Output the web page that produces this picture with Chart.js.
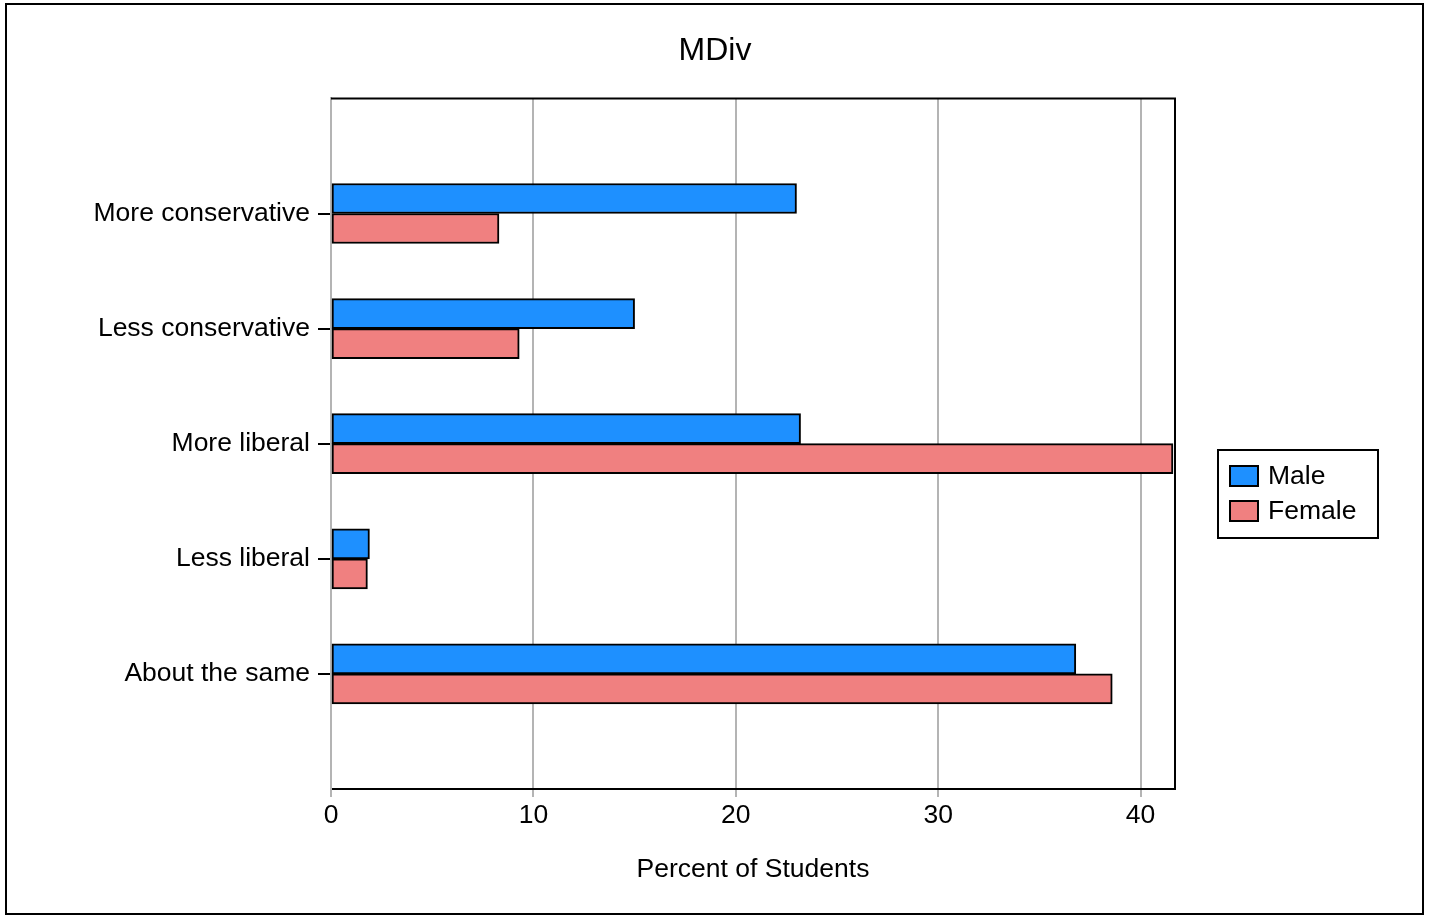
<!DOCTYPE html>
<html>
<head>
<meta charset="utf-8">
<script src="https://cdn.jsdelivr.net/npm/chart.js@4/dist/chart.umd.min.js"></script>
<style>
  html, body { margin: 0; padding: 0; background: #fff; }
  canvas { display: block; }
</style>
</head>
<body>
<canvas id="mdivChart" width="1430" height="916"></canvas>
<script>
// values
var categories = ['More conservative', 'Less conservative', 'More liberal', 'Less liberal', 'About the same'];
var maleValues = [23.0, 15.0, 23.2, 1.9, 36.8];
var femaleValues = [8.3, 9.3, 41.6, 1.8, 38.6];
var seriesNames = ['Male', 'Female'];
var xTicks = [0, 10, 20, 30, 40];

var FONT = "'Liberation Sans', Arial, sans-serif";
var LABEL_SIZE = 26.5;
var maleColor = '#1E90FF', femaleColor = '#F08080';

// pad the category axis with an empty slot on each end (the plot leaves a full band free)
var paddedLabels = [''].concat(categories, ['']);
function pad(arr) { return [null].concat(arr, [null]); }

var framePlugin = {
  id: 'frame',
  afterDraw: function(chart) {
    var ctx = chart.ctx, a = chart.chartArea;
    ctx.save();
    ctx.strokeStyle = '#000';
    ctx.lineWidth = 2;
    // top and right sides of the plot box
    ctx.beginPath();
    ctx.moveTo(a.left, a.top);
    ctx.lineTo(a.right, a.top);
    ctx.lineTo(a.right, a.bottom);
    ctx.stroke();
    // outer border of the picture
    ctx.strokeRect(6, 4, 1417, 910);

    // legend box
    var lx = a.right + 43, ly = 450;
    ctx.strokeRect(lx, ly, 160, 88);
    var ds = chart.data.datasets;
    ctx.font = LABEL_SIZE + 'px ' + FONT;
    ctx.textBaseline = 'middle';
    for (var i = 0; i < ds.length; i++) {
      var cy = ly + 26 + i * 35;
      ctx.fillStyle = ds[i].backgroundColor;
      ctx.fillRect(lx + 12, cy - 10, 28, 20);
      ctx.strokeRect(lx + 12, cy - 10, 28, 20);
      ctx.fillStyle = '#000';
      ctx.fillText(ds[i].label, lx + 50, cy + 1);
    }
    ctx.restore();
  }
};

new Chart(document.getElementById('mdivChart'), {
  type: 'bar',
  data: {
    labels: paddedLabels,
    datasets: [
      { label: seriesNames[0], data: pad(maleValues), backgroundColor: maleColor },
      { label: seriesNames[1], data: pad(femaleValues), backgroundColor: femaleColor }
    ]
  },
  options: {
    indexAxis: 'y',
    responsive: false,
    animation: false,
    devicePixelRatio: 1,
    layout: { padding: 0 },
    datasets: {
      bar: { barThickness: 30, borderColor: '#000', borderWidth: 2, borderSkipped: false }
    },
    plugins: {
      legend: { display: false },
      tooltip: { enabled: false },
      title: {
        display: true,
        text: 'MDiv',
        color: '#000',
        font: { family: FONT, size: 32, weight: 'normal', lineHeight: 1.2 },
        padding: { top: 32, bottom: 28 }
      }
    },
    scales: {
      x: {
        type: 'linear',
        min: 0,
        max: 41.7,
        afterBuildTicks: function(scale) {
          scale.ticks = xTicks.map(function(v) { return { value: v }; });
        },
        afterFit: function(scale) { scale.height = 127; },
        grid: { color: '#b4b4b4', lineWidth: 2, tickLength: 8, drawTicks: true },
        border: { color: '#000', width: 2 },
        ticks: {
          color: '#000',
          padding: 3,
          maxRotation: 0,
          font: { family: FONT, size: LABEL_SIZE }
        },
        title: {
          display: true,
          text: 'Percent of Students',
          color: '#000',
          font: { family: FONT, size: LABEL_SIZE },
          padding: { top: 20, bottom: 30 }
        }
      },
      y: {
        type: 'category',
        offset: false,
        afterFit: function(scale) { scale.width = 331; },
        grid: {
          offset: false,
          drawOnChartArea: false,
          drawTicks: true,
          tickLength: 13,
          lineWidth: 2,
          tickColor: function(c) { return c.tick && c.tick.label === '' ? 'rgba(0,0,0,0)' : '#000'; }
        },
        border: { color: '#b4b4b4', width: 2 },
        ticks: {
          color: '#000',
          padding: 8,
          autoSkip: false,
          font: { family: FONT, size: LABEL_SIZE }
        }
      },
      // empty axis on the right that only reserves room for the legend
      yLegend: {
        type: 'category',
        position: 'right',
        afterFit: function(scale) { scale.width = 255; },
        grid: { display: false },
        border: { display: false },
        ticks: { display: false }
      }
    }
  },
  plugins: [framePlugin]
});
</script>
</body>
</html>
